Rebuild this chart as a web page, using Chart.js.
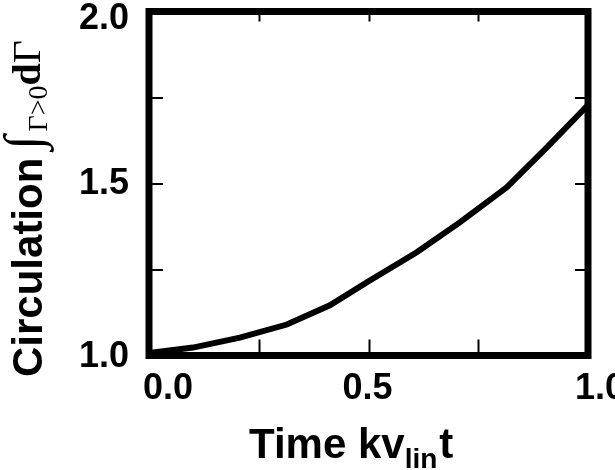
<!DOCTYPE html>
<html>
<head>
<meta charset="utf-8">
<script src="https://cdn.jsdelivr.net/npm/chart.js@4"></script>
<style>
  body { margin: 0; background: #fff; }
  canvas { display: block; }
</style>
</head>
<body>
<canvas id="circChart" width="615" height="470"></canvas>
<script>
// data
const times = [0, 0.10, 0.207, 0.314, 0.412, 0.503, 0.610, 0.708, 0.815, 0.907, 1.0];
const circulation = [1.007, 1.023, 1.052, 1.090, 1.146, 1.218, 1.300, 1.387, 1.489, 1.606, 1.728];

const xTickLabels = ['0.0', '0.5', '1.0'];
const xTickValues = [0, 0.5, 1.0];
const yTickLabels = ['1.0', '1.5', '2.0'];
const yTickValues = [1.0, 1.5, 2.0];
const xMinorTicks = [0.25, 0.5, 0.75];
const yMinorTicks = [1.25, 1.5, 1.75];

const frameAndLabels = {
    id: 'frameAndLabels',
    afterDatasetsDraw(chart) {
        const ctx = chart.ctx;
        const area = chart.chartArea;
        const xs = chart.scales.x;
        const ys = chart.scales.y;
        ctx.save();

        // small ticks on all four sides
        ctx.strokeStyle = '#000';
        ctx.lineWidth = 2;
        xMinorTicks.forEach(v => {
            const px = Math.round(xs.getPixelForValue(v)) + 0.5;
            ctx.beginPath();
            ctx.moveTo(px, area.bottom); ctx.lineTo(px, area.bottom - 16);
            ctx.moveTo(px, area.top); ctx.lineTo(px, area.top + 10);
            ctx.stroke();
        });
        yMinorTicks.forEach(v => {
            const py = Math.round(ys.getPixelForValue(v));
            ctx.beginPath();
            ctx.moveTo(area.left, py); ctx.lineTo(area.left + 14, py);
            ctx.moveTo(area.right, py); ctx.lineTo(area.right - 13, py);
            ctx.stroke();
        });

        // thick frame
        ctx.lineWidth = 7;
        ctx.strokeRect(area.left, area.top, area.right - area.left, area.bottom - area.top);

        // tick labels
        ctx.fillStyle = '#000';
        ctx.font = 'bold 36px "Liberation Sans", Arial, sans-serif';
        ctx.textBaseline = 'middle';
        ctx.textAlign = 'center';
        const xShift = [19, -1, 12];
        xTickValues.forEach((v, i) => {
            ctx.fillText(xTickLabels[i], xs.getPixelForValue(v) + xShift[i], 389);
        });
        ctx.textAlign = 'right';
        const yShift = [2, 1, 8];
        yTickValues.forEach((v, i) => {
            ctx.fillText(yTickLabels[i], 129, ys.getPixelForValue(v) + yShift[i]);
        });

        // x axis title: Time kv_lin t
        ctx.textAlign = 'left';
        ctx.textBaseline = 'alphabetic';
        const bigX = 'bold 42px "Liberation Sans", Arial, sans-serif';
        const subX = 'bold 28px "Liberation Sans", Arial, sans-serif';
        let x = 249;
        ctx.font = bigX;
        ctx.fillText('Time kv', x, 458);
        x += ctx.measureText('Time kv').width;
        ctx.font = subX;
        ctx.fillText('lin', x, 468);
        x += ctx.measureText('lin').width + 2;
        ctx.font = bigX;
        ctx.fillText('t', x, 458);

        // y axis title: Circulation ∫_{Γ>0} dΓ
        ctx.translate(42, 377);
        ctx.rotate(-Math.PI / 2);
        let y = 0;
        ctx.font = 'bold 42px "Liberation Sans", Arial, sans-serif';
        ctx.fillText('Circulation', y, 0);
        y += ctx.measureText('Circulation').width + 8;
        ctx.font = '52px "Liberation Serif", "DejaVu Serif", serif';
        ctx.fillText('\u222B', y, -2);
        y += ctx.measureText('\u222B').width + 4;
        ctx.font = '28px "Liberation Serif", "DejaVu Serif", serif';
        ctx.fillText('\u0393>0', y, 5);
        y += ctx.measureText('\u0393>0').width;
        ctx.font = 'bold 40px "Liberation Serif", "DejaVu Serif", serif';
        ctx.fillText('d', y, -2);
        y += ctx.measureText('d').width;
        ctx.font = '40px "Liberation Serif", "DejaVu Serif", serif';
        ctx.fillText('\u0393', y, -2);

        ctx.restore();
    }
};

new Chart(document.getElementById('circChart').getContext('2d'), {
    type: 'line',
    data: {
        datasets: [{
            data: times.map((t, i) => ({ x: t, y: circulation[i] })),
            borderColor: '#000',
            borderWidth: 6,
            pointRadius: 0,
            tension: 0,
            fill: false
        }]
    },
    options: {
        responsive: false,
        animation: false,
        layout: {
            padding: { left: 149, right: 27, top: 11.5, bottom: 114.5 }
        },
        scales: {
            x: { type: 'linear', min: 0, max: 1, display: false },
            y: { type: 'linear', min: 1, max: 2, display: false }
        },
        plugins: {
            legend: { display: false },
            tooltip: { enabled: false }
        }
    },
    plugins: [frameAndLabels]
});
</script>
</body>
</html>
